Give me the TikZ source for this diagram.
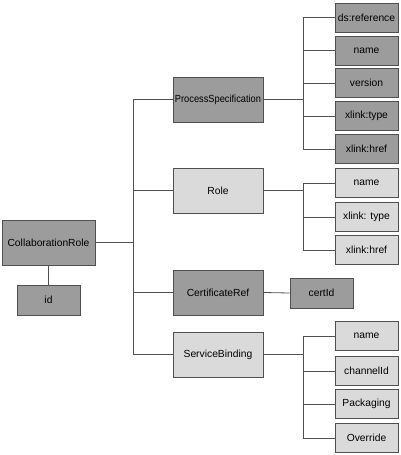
\documentclass[tikz,border=0pt]{standalone}
\usepackage{fontspec}
\setmainfont{Liberation Sans}
\definecolor{darkbox}{HTML}{9C9C9C}
\definecolor{lightbox}{HTML}{DADADA}
\definecolor{edge}{HTML}{505050}
\begin{document}
\begin{tikzpicture}[x=1pt,y=-1pt,
  box/.style={draw=edge,line width=0.8pt,inner sep=0pt,font=\fontsize{10.3}{12}\selectfont},
  dk/.style={box,fill=darkbox},
  lt/.style={box,fill=lightbox},
  big/.style={minimum width=90pt,minimum height=45pt},
  leaf/.style={minimum width=63pt,minimum height=29pt},
  con/.style={draw=edge,line width=0.8pt}]
\useasboundingbox (0,0) rectangle (400,455);
% root
\node[dk,minimum width=93pt,minimum height=45pt] (cr) at (48.5,242.5) {CollaborationRole};
\node[dk,minimum width=63pt,minimum height=30pt] (id) at (48.5,300) {id};
% middle
\node[dk,big] (ps) at (218,99.5) {\scalebox{0.9}[1]{ProcessSpecification}};
\node[lt,big] (role) at (218,190.5) {Role};
\node[dk,big] (cert) at (218,292.5) {CertificateRef};
\node[lt,big] (sb) at (218,354.5) {ServiceBinding};
\node[dk,minimum width=63pt,minimum height=30pt] (certid) at (321.5,293) {certId};
% PS leaves
\node[dk,leaf] (p1) at (366.5,17.5) {ds:reference};
\node[dk,leaf] (p2) at (366.5,50.5) {name};
\node[dk,leaf] (p3) at (366.5,83) {version};
\node[dk,leaf] (p4) at (366.5,116) {xlink:type};
\node[dk,leaf] (p5) at (366.5,149) {xlink:href};
% Role leaves
\node[lt,leaf] (r1) at (366.5,183) {name};
\node[lt,leaf] (r2) at (366.5,217) {xlink: type};
\node[lt,leaf] (r3) at (366.5,250) {xlink:href};
% SB leaves
\node[lt,leaf] (s1) at (366.5,336) {name};
\node[lt,leaf] (s2) at (366.5,371) {channelId};
\node[lt,leaf] (s3) at (366.5,404) {Packaging};
\node[lt,leaf] (s4) at (366.5,438) {Override};
% trunks
\coordinate (mt) at (133,0);
\coordinate (lt) at (303,0);
% connectors
\draw[con] (cr.south) -- (id.north);
\draw[con] (cr.east) -- (mt |- cr.east);
\draw[con] (mt |- ps.west) -- (mt |- sb.west);
\foreach \n in {ps,role,cert,sb} \draw[con] (mt |- \n.west) -- (\n.west);
\draw[con] (cert.east) -- (certid.west);
\draw[con] (ps.east) -- (lt |- ps.east);
\draw[con] (lt |- p1.west) -- (lt |- p5.west);
\foreach \n in {p1,p2,p3,p4,p5} \draw[con] (lt |- \n.west) -- (\n.west);
\draw[con] (role.east) -- (lt |- role.east);
\draw[con] (lt |- r1.west) -- (lt |- r3.west);
\foreach \n in {r1,r2,r3} \draw[con] (lt |- \n.west) -- (\n.west);
\draw[con] (sb.east) -- (lt |- sb.east);
\draw[con] (lt |- s1.west) -- (lt |- s4.west);
\foreach \n in {s1,s2,s3,s4} \draw[con] (lt |- \n.west) -- (\n.west);
\end{tikzpicture}
\end{document}
